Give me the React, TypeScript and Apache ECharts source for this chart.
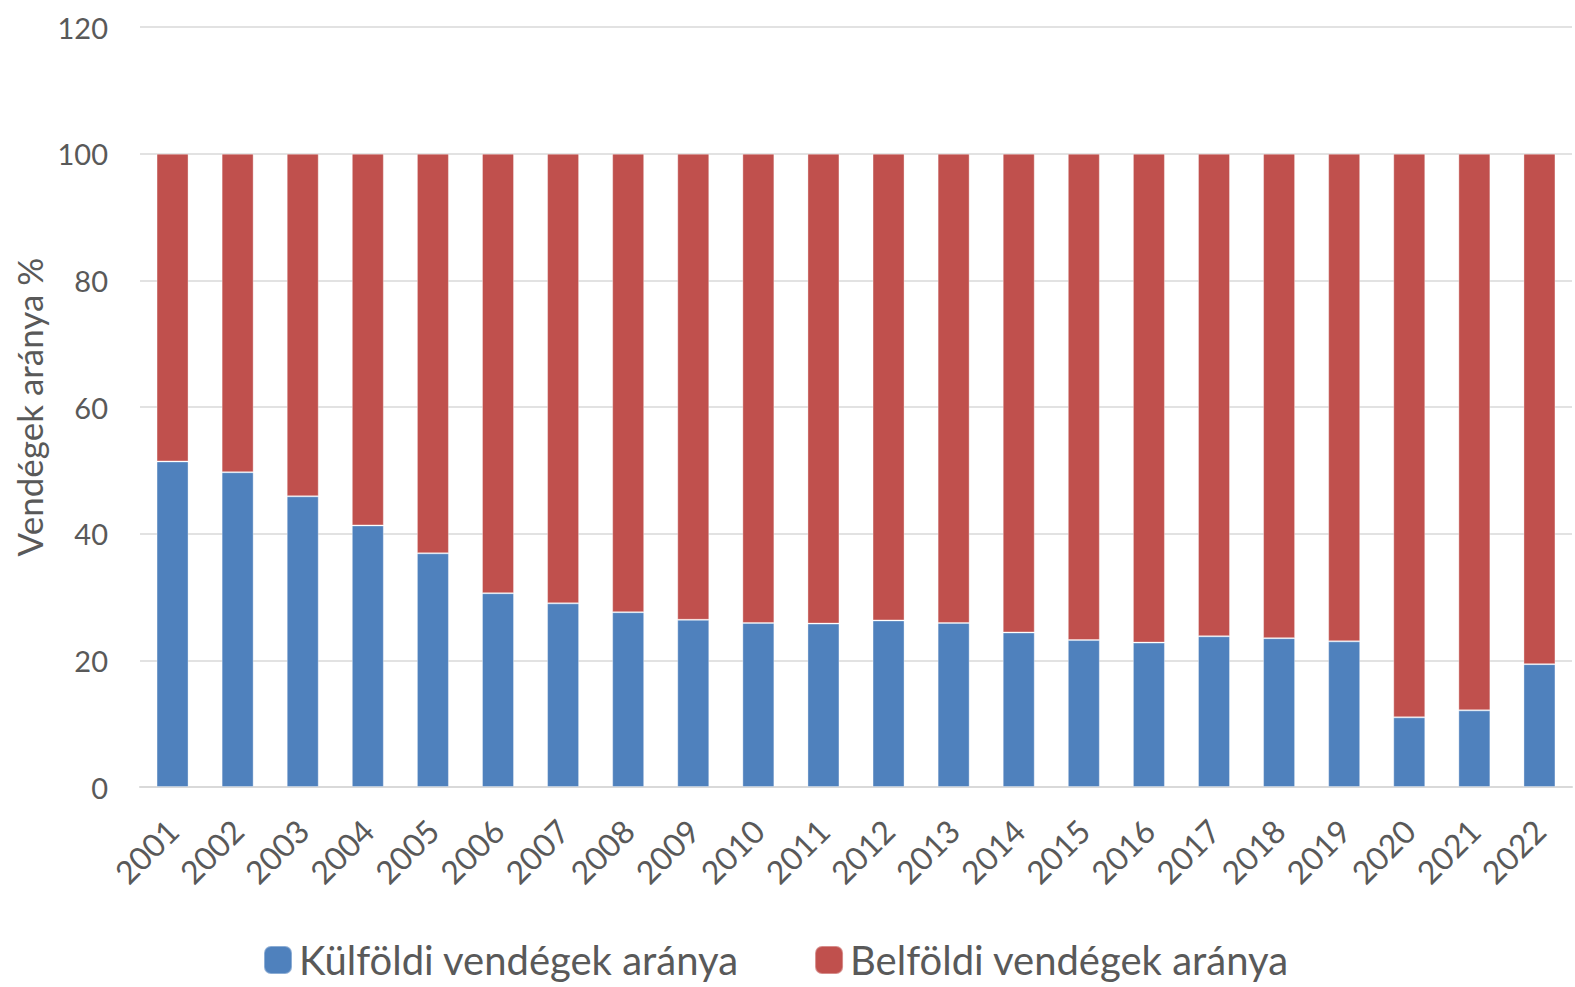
import React, { useEffect, useRef } from "react";
import * as echarts from "echarts";

const years = ["2001","2002","2003","2004","2005","2006","2007","2008","2009","2010","2011","2012","2013","2014","2015","2016","2017","2018","2019","2020","2021","2022"];
const foreignShare = [51.4, 49.7, 45.9, 41.3, 36.9, 30.6, 29.0, 27.6, 26.4, 25.9, 25.8, 26.3, 25.9, 24.4, 23.2, 22.8, 23.8, 23.5, 23.0, 11.0, 12.1, 19.4];
const domesticShare = [48.6, 50.3, 54.1, 58.7, 63.1, 69.4, 71.0, 72.4, 73.6, 74.1, 74.2, 73.7, 74.1, 75.6, 76.8, 77.2, 76.2, 76.5, 77.0, 89.0, 87.9, 80.6];
const seriesNames = ["Külföldi vendégek aránya", "Belföldi vendégek aránya"];
const yAxisName = "Vendégek aránya %";

const FONT = "Lato, 'Noto Sans', sans-serif";
const TEXT = "#595959";

export default function App() {
  const ref = useRef<HTMLDivElement>(null);
  useEffect(() => {
    if (!ref.current) return;
    const chart = echarts.init(ref.current, undefined, { renderer: "svg" });
    chart.setOption({
      animation: false,
      textStyle: { fontFamily: FONT },
      grid: {
        left: 140,
        right: 3,
        top: 27,
        bottom: 200,
        containLabel: false,
        outerBoundsMode: "none",
      },
      legend: {
        left: 263,
        top: 940,
        padding: 0,
        itemWidth: 28,
        itemHeight: 28,
        itemGap: 75,
        icon: "roundRect",
        textStyle: { fontFamily: FONT, fontSize: 40, color: TEXT, padding: [0, 0, 0, 2] },
        data: seriesNames,
      },
      xAxis: {
        type: "category",
        data: years,
        axisLine: { show: true, lineStyle: { color: "#D9D9D9", width: 2 } },
        axisTick: { show: false },
        axisLabel: { rotate: 45, fontSize: 32, color: TEXT, margin: 38, fontFamily: FONT },
      },
      yAxis: {
        type: "value",
        min: 0,
        max: 120,
        interval: 20,
        name: yAxisName,
        nameLocation: "middle",
        nameGap: 93,
        nameRotate: 90,
        nameTextStyle: { fontSize: 35, color: TEXT, fontFamily: FONT },
        axisLine: { show: false },
        axisTick: { show: false },
        axisLabel: { fontSize: 29, color: TEXT, margin: 32, fontFamily: FONT },
        splitLine: { lineStyle: { color: "#D9D9D9", width: 1.5 } },
      },
      series: [
        {
          name: seriesNames[0],
          type: "bar",
          stack: "total",
          barWidth: 32,
          data: foreignShare,
          itemStyle: { color: "#4F81BD", borderColor: "rgba(255,255,255,0.35)", borderWidth: 1 },
        },
        {
          name: seriesNames[1],
          type: "bar",
          stack: "total",
          barWidth: 32,
          data: domesticShare,
          itemStyle: { color: "#C0504D", borderColor: "rgba(255,255,255,0.35)", borderWidth: 1 },
        },
      ],
    });
    return () => chart.dispose();
  }, []);
  return (
    <div
      ref={ref}
      style={{ position: "fixed", left: 0, top: 0, width: 1575, height: 987, background: "#fff" }}
    />
  );
}
